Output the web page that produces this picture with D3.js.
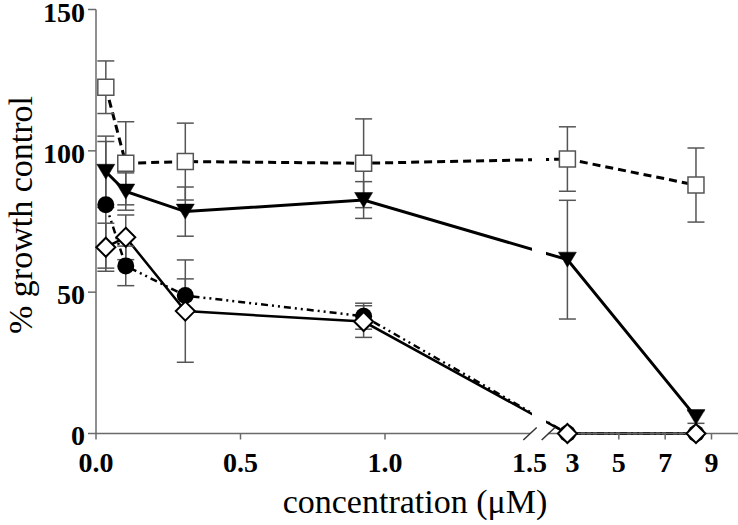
<!DOCTYPE html>
<html>
<head>
<meta charset="utf-8">
<script src="https://cdn.jsdelivr.net/npm/d3@7"></script>
<style>
    body { margin: 0; background: #fff; }
    svg { display: block; }
    .tick-label { font-family: "Liberation Serif", "Times New Roman", serif; font-weight: bold; font-size: 28px; }
    .title { font-family: "Liberation Serif", "Times New Roman", serif; font-size: 34px; }
</style>
</head>
<body>
<svg id="chart" width="738" height="525"></svg>
<script>
// concentrations (uM), 3-fold dilution series
const concentrations = [0.034, 0.103, 0.309, 0.926, 2.78, 8.33];

// % growth control, mean and error per series
const squareMean = [122.5, 95.6, 96.2, 95.6, 97.1, 87.9];
const squareErr = [9.3, 14.7, 13.6, 15.7, 11.4, 13.1];
const triangleMean = [92.6, 85.6, 78.5, 82.6, 61.5, 5.8];
const triangleErr = [12.6, 6.6, 8.7, 6.5, 21.0, 2.2];
const circleMean = [80.9, 59.3, 48.8, 41.5, 0, 0];
const circleErr = [22.4, 7.0, 5.9, 4.6, 0, 0];
const diamondMean = [65.9, 69.4, 43.3, 39.6, 0, 0];
const diamondErr = [8.5, 7.9, 18.1, 5.6, 0, 0];

const leftTicks = [0, 0.5, 1.0];
const rightTicks = [5, 7, 9];
const yTicks = [0, 50, 100, 150];

const svg = d3.select("#chart");
const axisColor = "#6a6a6a";

// broken x axis: two linear pieces
const xLeft = d3.scaleLinear().domain([0, 1.5]).range([96, 529.5]);
const xRight = d3.scaleLinear().domain([3, 9]).range([572.5, 711.5]);
const y = d3.scaleLinear().domain([0, 150]).range([433.5, 9.5]);

function xPos(v){
    return v <= 1.5 ? xLeft(v) : xRight(v);
}

const series = [
    {name: "square", mean: squareMean, err: squareErr, dash: "8,5", width: 3},
    {name: "triangle", mean: triangleMean, err: triangleErr, dash: null, width: 3},
    {name: "circle", mean: circleMean, err: circleErr, dash: "7,4,2,4,2,4", width: 2.5},
    {name: "diamond", mean: diamondMean, err: diamondErr, dash: null, width: 2.5}
];

// clip lines where the axis is broken
svg.append("defs").append("clipPath").attr("id", "breakClip")
    .selectAll("rect")
    .data([[0, 532], [546, 738]])
    .join("rect")
    .attr("x", d => d[0])
    .attr("y", 0)
    .attr("width", d => d[1] - d[0])
    .attr("height", 525);

// axes
function drawAxes(){
    let g = svg.append("g").attr("class", "axes");

    g.append("line")
        .attr("x1", xLeft(0)).attr("x2", xLeft(0))
        .attr("y1", y(0)).attr("y2", y(150))
        .attr("stroke", axisColor).attr("stroke-width", 1.5);

    g.append("line")
        .attr("x1", xLeft(0)).attr("x2", 530)
        .attr("y1", y(0)).attr("y2", y(0))
        .attr("stroke", axisColor).attr("stroke-width", 1.5);

    g.append("line")
        .attr("x1", 548).attr("x2", 738)
        .attr("y1", y(0)).attr("y2", y(0))
        .attr("stroke", axisColor).attr("stroke-width", 1.5);

    // break marks
    [[523.3, 536.7], [541.7, 555]].forEach(d=>{
        g.append("line")
            .attr("x1", d[0]).attr("y1", y(0) + 6.5)
            .attr("x2", d[1]).attr("y2", y(0) - 6)
            .attr("stroke", "#333").attr("stroke-width", 1.5);
    });

    // y ticks
    g.selectAll(".ytick")
        .data(yTicks)
        .join("line")
        .attr("class", "ytick")
        .attr("x1", xLeft(0) - 8).attr("x2", xLeft(0))
        .attr("y1", d => y(d)).attr("y2", d => y(d))
        .attr("stroke", axisColor).attr("stroke-width", 1.5);

    g.selectAll(".ylabel")
        .data(yTicks)
        .join("text")
        .attr("class", "ylabel tick-label")
        .attr("x", 85)
        .attr("y", d => y(d) + (d === 150 ? 2.5 : 2))
        .attr("dy", "0.35em")
        .attr("text-anchor", "end")
        .text(d => d);

    // x ticks
    let xTickPos = leftTicks.map(d => xLeft(d)).concat(rightTicks.map(d => xRight(d)));
    g.selectAll(".xtick")
        .data(xTickPos)
        .join("line")
        .attr("class", "xtick")
        .attr("x1", d => d).attr("x2", d => d)
        .attr("y1", y(0)).attr("y2", y(0) + 6)
        .attr("stroke", axisColor).attr("stroke-width", 1.5);

    let xLabels = leftTicks.map(d => ({x: xLeft(d), t: d.toFixed(1)}))
        .concat([{x: xLeft(1.5), t: "1.5"}, {x: xRight(3), t: "3"}])
        .concat(rightTicks.map(d => ({x: xRight(d), t: String(d)})));
    g.selectAll(".xlabel")
        .data(xLabels)
        .join("text")
        .attr("class", "xlabel tick-label")
        .attr("x", d => d.x)
        .attr("y", 472)
        .attr("text-anchor", "middle")
        .text(d => d.t);

    svg.append("text")
        .attr("class", "title")
        .attr("x", 415)
        .attr("y", 513)
        .attr("text-anchor", "middle")
        .text("concentration (\u03bcM)");

    svg.append("text")
        .attr("class", "title")
        .attr("transform", "translate(32,215) rotate(-90)")
        .attr("text-anchor", "middle")
        .text("% growth control");
}

function drawLines(){
    let line = d3.line()
        .x((d, i) => xPos(concentrations[i]))
        .y(d => y(d));

    svg.append("g").attr("clip-path", "url(#breakClip)")
        .selectAll("path")
        .data(series)
        .join("path")
        .attr("d", d => line(d.mean))
        .attr("fill", "none")
        .attr("stroke", "#000")
        .attr("stroke-width", d => d.width)
        .attr("stroke-dasharray", d => d.dash);
}

function drawErrorBars(){
    let g = svg.append("g").attr("class", "errors");
    series.forEach(s=>{
        s.mean.forEach((m, i)=>{
            let e = s.err[i];
            if (!e) return;
            let cx = xPos(concentrations[i]);
            g.append("line")
                .attr("x1", cx).attr("x2", cx)
                .attr("y1", y(m - e)).attr("y2", y(m + e))
                .attr("stroke", "#555").attr("stroke-width", 1.5);
            [m - e, m + e].forEach(v=>{
                g.append("line")
                    .attr("x1", cx - 8.5).attr("x2", cx + 8.5)
                    .attr("y1", y(v)).attr("y2", y(v))
                    .attr("stroke", "#555").attr("stroke-width", 1.5);
            });
        });
    });
}

function markerPath(name){
    if (name === "triangle") return "M-9,-7.5L9,-7.5L0,7.5Z";
    if (name === "diamond") return "M0,-9.5L9.5,0L0,9.5L-9.5,0Z";
    if (name === "square") return "M-8,-8L8,-8L8,8L-8,8Z";
    return null;
}

function drawMarkers(){
    // draw order: squares, triangles, circles, diamonds on top
    series.forEach(s=>{
        let g = svg.append("g").attr("class", "markers " + s.name);
        let pts = s.mean.map((m, i) => ({x: xPos(concentrations[i]), y: y(m)}));
        if (s.name === "circle") {
            g.selectAll("circle")
                .data(pts)
                .join("circle")
                .attr("cx", d => d.x).attr("cy", d => d.y)
                .attr("r", 8.5)
                .attr("fill", "#000");
            return;
        }
        g.selectAll("path")
            .data(pts)
            .join("path")
            .attr("transform", d => "translate(" + d.x + "," + d.y + ")")
            .attr("d", markerPath(s.name))
            .attr("fill", s.name === "triangle" ? "#000" : "#fff")
            .attr("stroke", s.name === "square" ? "#555" : "#000")
            .attr("stroke-width", s.name === "triangle" ? 0.5 : (s.name === "square" ? 1.5 : 2));
    });
}

drawLines();
drawErrorBars();
drawAxes();
drawMarkers();
</script>
</body>
</html>
